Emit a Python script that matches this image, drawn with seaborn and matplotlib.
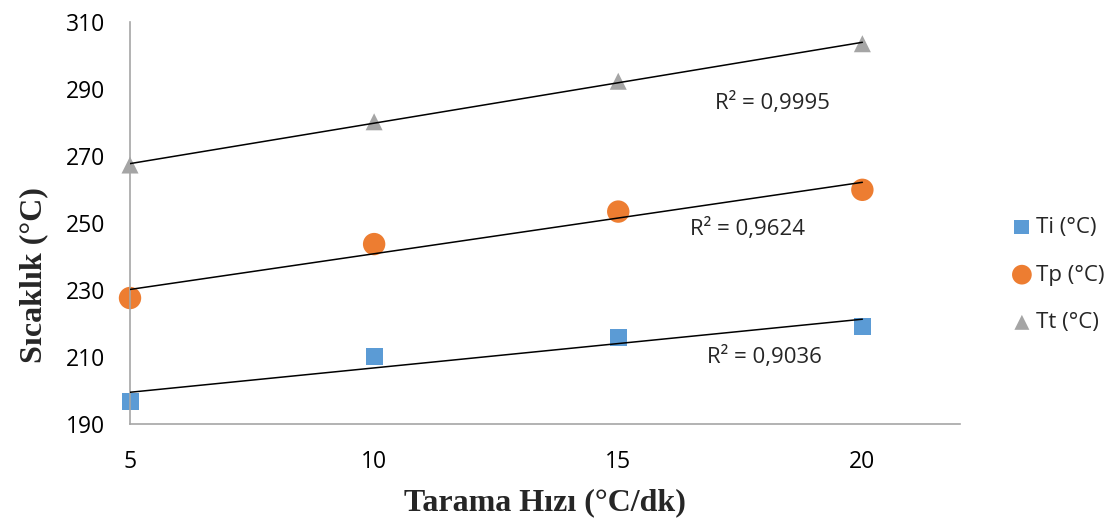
import matplotlib
matplotlib.use('Agg')
import matplotlib.pyplot as plt
import numpy as np
import pandas as pd
import seaborn as sns

# data
scan_rates = [5, 10, 15, 20]
ti_values = [196.6, 210.2, 215.7, 219.0]
tp_values = [227.6, 243.7, 253.4, 259.9]
tt_values = [267.3, 280.2, 292.3, 303.5]
series_names = ['Ti (°C)', 'Tp (°C)', 'Tt (°C)']
r2_labels = ['R² = 0,9036', 'R² = 0,9624', 'R² = 0,9995']
r2_positions = [(18.0, 210.0), (17.65, 248.2), (18.15, 285.8)]

colors = ['#5B9BD5', '#ED7D31', '#A5A5A5']
markers = ['s', 'o', '^']
sizes = [150, 260, 150]

sns.set_style('white')
plt.rcParams['font.family'] = ['Open Sans', 'DejaVu Sans']

df = pd.DataFrame({
    'x': scan_rates * 3,
    'y': ti_values + tp_values + tt_values,
    'series': np.repeat(series_names, len(scan_rates)),
})

fig = plt.figure(figsize=(11.15, 5.23), dpi=100)
ax = fig.add_axes([0.1166, 0.1893, 0.7444, 0.7687])

for name, color, marker, size in zip(series_names, colors, markers, sizes):
    sub = df[df['series'] == name]
    sns.regplot(data=sub, x='x', y='y', ax=ax, ci=None, scatter=False, truncate=True,
                line_kws={'color': 'black', 'lw': 1.1, 'zorder': 3})
    sns.scatterplot(data=sub, x='x', y='y', ax=ax, color=color, marker=marker,
                    s=size, edgecolor='none', label=name, zorder=2)

for coll in ax.collections:
    coll.set_clip_on(False)

for label, (lx, ly) in zip(r2_labels, r2_positions):
    ax.text(lx, ly, label, ha='center', va='center', fontsize=16)

ax.set_xlim(5, 22)
ax.set_ylim(190, 310)
ax.set_xticks(scan_rates)
ax.set_yticks(np.arange(190, 311, 20))

for side in ['top', 'right']:
    ax.spines[side].set_visible(False)
for side in ['left', 'bottom']:
    ax.spines[side].set_color('#A6A6A6')
    ax.spines[side].set_linewidth(1.2)
ax.tick_params(axis='both', direction='out', length=6, width=1.2, color='#A6A6A6',
               labelsize=16.5, labelcolor='black')
ax.tick_params(axis='x', pad=13)
ax.tick_params(axis='y', pad=12)

ax.set_xlabel('Tarama Hızı (°C/dk)', family='Liberation Serif', fontweight='bold',
              fontsize=23, labelpad=10)
ax.set_ylabel('Sıcaklık (°C)', family='Liberation Serif', fontweight='bold',
              fontsize=23)
ax.yaxis.set_label_coords(-0.098, 0.37)

handles, labels = ax.get_legend_handles_labels()
ax.legend_ = None
fig.legend(handles, labels, loc='center left', bbox_to_anchor=(1013 / 1115, 1 - 275 / 523),
           frameon=False, fontsize=16, borderpad=0, borderaxespad=0, handlelength=0.8,
           handletextpad=0.25, labelspacing=1.2, markerscale=0.88)

fig.savefig('out.png', dpi=100)
